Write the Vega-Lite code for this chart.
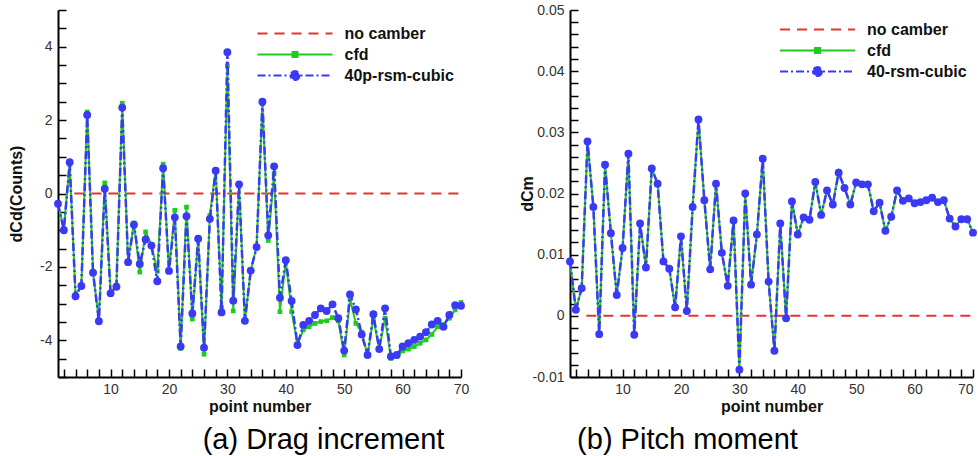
{
  "$schema": "https://vega.github.io/schema/vega-lite/v6.json",
  "background": "white",
  "padding": {"left": 8, "top": 3, "right": 2, "bottom": 2},
  "bounds": "flush",
  "spacing": 109,
  "config": {
    "font": "Liberation Sans",
    "view": {"stroke": null},
    "axis": {
      "labelFont": "Liberation Sans",
      "labelFontSize": 14,
      "labelColor": "#333333",
      "titleFont": "Liberation Sans",
      "titleFontSize": 16,
      "titleFontWeight": "bold",
      "titleColor": "#111111",
      "domainColor": "#000000",
      "domainWidth": 2,
      "grid": false,
      "labelOverlap": false,
      "labelFlush": false,
      "ticks": true,
      "tickWidth": 1.5,
      "tickSize": -8,
      "tickColor": "#000000",
      "zindex": 1
    }
  },
  "datasets": {
    "drag": [
      {"n":1,"cfd":-0.3,"rsm":-0.28},{"n":2,"cfd":-0.95,"rsm":-1.0},{"n":3,"cfd":0.8,"rsm":0.85},{"n":4,"cfd":-2.75,"rsm":-2.8},{"n":5,"cfd":-2.5,"rsm":-2.52},
      {"n":6,"cfd":2.22,"rsm":2.14},{"n":7,"cfd":-2.15,"rsm":-2.16},{"n":8,"cfd":-3.45,"rsm":-3.48},{"n":9,"cfd":0.29,"rsm":0.13},{"n":10,"cfd":-2.7,"rsm":-2.72},
      {"n":11,"cfd":-2.5,"rsm":-2.54},{"n":12,"cfd":2.46,"rsm":2.34},{"n":13,"cfd":-1.85,"rsm":-1.87},{"n":14,"cfd":-0.8,"rsm":-0.85},{"n":15,"cfd":-2.14,"rsm":-1.92},
      {"n":16,"cfd":-1.05,"rsm":-1.25},{"n":17,"cfd":-1.4,"rsm":-1.42},{"n":18,"cfd":-2.12,"rsm":-2.39},{"n":19,"cfd":0.8,"rsm":0.69},{"n":20,"cfd":-2.1,"rsm":-2.11},
      {"n":21,"cfd":-0.46,"rsm":-0.65},{"n":22,"cfd":-4.22,"rsm":-4.17},{"n":23,"cfd":-0.37,"rsm":-0.62},{"n":24,"cfd":-3.42,"rsm":-3.27},{"n":25,"cfd":-1.2,"rsm":-1.23},
      {"n":26,"cfd":-4.38,"rsm":-4.2},{"n":27,"cfd":-0.6,"rsm":-0.69},{"n":28,"cfd":0.65,"rsm":0.62},{"n":29,"cfd":-3.11,"rsm":-3.24},{"n":30,"cfd":3.48,"rsm":3.85},
      {"n":31,"cfd":-3.2,"rsm":-2.92},{"n":32,"cfd":0.2,"rsm":0.25},{"n":33,"cfd":-3.47,"rsm":-3.47},{"n":34,"cfd":-2.1,"rsm":-2.1},{"n":35,"cfd":-1.45,"rsm":-1.46},
      {"n":36,"cfd":2.45,"rsm":2.5},{"n":37,"cfd":-1.28,"rsm":-1.14},{"n":38,"cfd":0.55,"rsm":0.74},{"n":39,"cfd":-3.22,"rsm":-2.84},{"n":40,"cfd":-1.85,"rsm":-1.82},
      {"n":41,"cfd":-3.22,"rsm":-2.93},{"n":42,"cfd":-4.1,"rsm":-4.13},{"n":43,"cfd":-3.72,"rsm":-3.58},{"n":44,"cfd":-3.63,"rsm":-3.47},{"n":45,"cfd":-3.54,"rsm":-3.31},
      {"n":46,"cfd":-3.49,"rsm":-3.13},{"n":47,"cfd":-3.47,"rsm":-3.2},{"n":48,"cfd":-3.38,"rsm":-3.02},{"n":49,"cfd":-3.47,"rsm":-3.4},{"n":50,"cfd":-4.4,"rsm":-4.28},
      {"n":51,"cfd":-2.88,"rsm":-2.75},{"n":52,"cfd":-3.54,"rsm":-3.16},{"n":53,"cfd":-3.78,"rsm":-3.84},{"n":54,"cfd":-4.4,"rsm":-4.4},{"n":55,"cfd":-3.4,"rsm":-3.29},
      {"n":56,"cfd":-4.24,"rsm":-4.24},{"n":57,"cfd":-3.4,"rsm":-3.13},{"n":58,"cfd":-4.49,"rsm":-4.44},{"n":59,"cfd":-4.44,"rsm":-4.4},{"n":60,"cfd":-4.29,"rsm":-4.17},
      {"n":61,"cfd":-4.24,"rsm":-4.08},{"n":62,"cfd":-4.17,"rsm":-3.99},{"n":63,"cfd":-4.08,"rsm":-3.9},{"n":64,"cfd":-3.99,"rsm":-3.78},{"n":65,"cfd":-3.84,"rsm":-3.57},
      {"n":66,"cfd":-3.63,"rsm":-3.47},{"n":67,"cfd":-3.57,"rsm":-3.63},{"n":68,"cfd":-3.4,"rsm":-3.31},{"n":69,"cfd":-3.17,"rsm":-3.04},{"n":70,"cfd":-2.97,"rsm":-3.06}
    ],
    "pitch": [
      {"n":1,"cfd":0.0089,"rsm":0.0089},{"n":2,"cfd":0.001,"rsm":0.001},{"n":3,"cfd":0.0045,"rsm":0.0045},{"n":4,"cfd":0.0285,"rsm":0.0285},{"n":5,"cfd":0.0178,"rsm":0.0178},
      {"n":6,"cfd":-0.003,"rsm":-0.003},{"n":7,"cfd":0.0247,"rsm":0.0247},{"n":8,"cfd":0.0135,"rsm":0.0135},{"n":9,"cfd":0.0034,"rsm":0.0034},{"n":10,"cfd":0.0111,"rsm":0.0111},
      {"n":11,"cfd":0.0265,"rsm":0.0265},{"n":12,"cfd":-0.0031,"rsm":-0.0031},{"n":13,"cfd":0.0151,"rsm":0.0151},{"n":14,"cfd":0.0079,"rsm":0.0079},{"n":15,"cfd":0.0241,"rsm":0.0241},
      {"n":16,"cfd":0.0216,"rsm":0.0216},{"n":17,"cfd":0.0089,"rsm":0.0089},{"n":18,"cfd":0.0077,"rsm":0.0077},{"n":19,"cfd":0.0014,"rsm":0.0014},{"n":20,"cfd":0.013,"rsm":0.013},
      {"n":21,"cfd":0.0008,"rsm":0.0008},{"n":22,"cfd":0.0178,"rsm":0.0178},{"n":23,"cfd":0.0321,"rsm":0.0321},{"n":24,"cfd":0.0189,"rsm":0.0189},{"n":25,"cfd":0.0076,"rsm":0.0076},
      {"n":26,"cfd":0.0216,"rsm":0.0216},{"n":27,"cfd":0.0103,"rsm":0.0103},{"n":28,"cfd":0.0049,"rsm":0.0049},{"n":29,"cfd":0.0156,"rsm":0.0156},{"n":30,"cfd":-0.0088,"rsm":-0.0088},
      {"n":31,"cfd":0.02,"rsm":0.02},{"n":32,"cfd":0.0051,"rsm":0.0051},{"n":33,"cfd":0.0133,"rsm":0.0133},{"n":34,"cfd":0.0257,"rsm":0.0257},{"n":35,"cfd":0.0056,"rsm":0.0056},
      {"n":36,"cfd":-0.0057,"rsm":-0.0057},{"n":37,"cfd":0.0151,"rsm":0.0151},{"n":38,"cfd":-0.0004,"rsm":-0.0004},{"n":39,"cfd":0.0189,"rsm":0.0187},{"n":40,"cfd":0.0133,"rsm":0.0133},
      {"n":41,"cfd":0.0161,"rsm":0.0161},{"n":42,"cfd":0.0157,"rsm":0.0157},{"n":43,"cfd":0.0219,"rsm":0.0219},{"n":44,"cfd":0.0165,"rsm":0.0165},{"n":45,"cfd":0.0205,"rsm":0.0205},
      {"n":46,"cfd":0.0182,"rsm":0.0182},{"n":47,"cfd":0.0236,"rsm":0.0234},{"n":48,"cfd":0.0209,"rsm":0.0209},{"n":49,"cfd":0.0182,"rsm":0.0182},{"n":50,"cfd":0.0218,"rsm":0.0218},
      {"n":51,"cfd":0.0215,"rsm":0.0215},{"n":52,"cfd":0.0215,"rsm":0.0215},{"n":53,"cfd":0.0171,"rsm":0.0171},{"n":54,"cfd":0.0185,"rsm":0.0185},{"n":55,"cfd":0.0139,"rsm":0.0139},
      {"n":56,"cfd":0.0162,"rsm":0.0162},{"n":57,"cfd":0.0205,"rsm":0.0205},{"n":58,"cfd":0.0188,"rsm":0.0188},{"n":59,"cfd":0.0192,"rsm":0.0192},{"n":60,"cfd":0.0184,"rsm":0.0184},
      {"n":61,"cfd":0.0186,"rsm":0.0186},{"n":62,"cfd":0.0189,"rsm":0.0189},{"n":63,"cfd":0.0195,"rsm":0.0193},{"n":64,"cfd":0.0186,"rsm":0.0186},{"n":65,"cfd":0.0189,"rsm":0.0189},
      {"n":66,"cfd":0.0159,"rsm":0.0159},{"n":67,"cfd":0.0146,"rsm":0.0146},{"n":68,"cfd":0.0158,"rsm":0.0158},{"n":69,"cfd":0.0158,"rsm":0.0158},{"n":70,"cfd":0.0136,"rsm":0.0136}
    ]
  },
  "resolve": {
    "scale": {"x": "independent", "y": "independent", "fill": "independent", "stroke": "independent", "shape": "independent", "strokeDash": "independent"},
    "legend": {"fill": "independent", "stroke": "independent", "shape": "independent", "strokeDash": "independent"}
  },
  "hconcat": [
    {
      "width": 403,
      "height": 367,
      "title": {"text": "(a) Drag increment", "orient": "bottom", "anchor": "middle", "frame": "group", "dx": 64, "offset": 12, "fontSize": 29, "fontWeight": "normal", "font": "Liberation Sans", "color": "#000000"},
      "encoding": {
        "x": {"field": "n", "type": "quantitative", "title": "point number",
          "scale": {"domain": [1, 70], "nice": false, "zero": false},
          "axis": {"values": [2,4,6,8,10,12,14,16,18,20,22,24,26,28,30,32,34,36,38,40,42,44,46,48,50,52,54,56,58,60,62,64,66,68,70],
            "labelExpr": "datum.value % 10 === 0 ? '' + datum.value : ''",
            "labelPadding": 13, "titlePadding": 2,
            "encoding": {"ticks": {"update": {"y2": {"signal": "datum.value % 10 === 0 ? -8 : -4"}, "stroke": {"signal": "datum.value % 10 === 0 ? '#000000' : '#777777'"}}}}}},
        "y": {"field": "v", "type": "quantitative", "title": "dCd(Counts)",
          "scale": {"domain": [-5, 5], "nice": false, "zero": false},
          "axis": {"values": [-5,-4.5,-4,-3.5,-3,-2.5,-2,-1.5,-1,-0.5,0,0.5,1,1.5,2,2.5,3,3.5,4,4.5,5],
            "labelExpr": "datum.value % 2 === 0 ? '' + datum.value : ''",
            "labelPadding": 14, "titlePadding": 15.5,
            "encoding": {"ticks": {"update": {"x2": {"signal": "datum.value % 2 === 0 ? 8 : 4"}, "stroke": {"signal": "datum.value % 2 === 0 ? '#000000' : '#777777'"}}}}}}
      },
      "layer": [
        {"data": {"values": [{"n": 3.8, "v": 0, "s": "no camber"}, {"n": 70, "v": 0, "s": "no camber"}]},
         "mark": {"type": "line", "color": "#e3342f", "strokeWidth": 2, "strokeDash": [10, 7]}},
        {"data": {"name": "drag"}, "transform": [{"fold": ["cfd"], "as": ["s", "v"]}],
         "mark": {"type": "line", "color": "#1ecb1e", "strokeWidth": 2}},
        {"data": {"name": "drag"}, "transform": [{"fold": ["cfd"], "as": ["s", "v"]}],
         "mark": {"type": "square", "color": "#1ecb1e", "size": 22, "opacity": 1}},
        {"data": {"name": "drag"}, "transform": [{"fold": ["rsm"], "as": ["s", "v"]}],
         "mark": {"type": "line", "color": "#3a3af5", "strokeWidth": 2.5, "strokeDash": [8, 3, 2, 3]}},
        {"data": {"name": "drag"}, "transform": [{"fold": ["rsm"], "as": ["s", "v"]}],
         "mark": {"type": "circle", "color": "#3a3af5", "size": 62, "opacity": 1}},
        {"data": {"values": [{"n": 3.8, "v": 0, "s": "no camber"}, {"n": 70, "v": 0, "s": "no camber"}]},
         "mark": {"type": "point", "opacity": 0, "strokeWidth": 2},
         "encoding": {
           "shape": {"field": "s", "type": "nominal",
             "scale": {"domain": ["no camber", "cfd", "40p-rsm-cubic"], "range": ["M-5,0H5", "M-5,0H5M-0.33,-0.33H0.33V0.33H-0.33Z", "M-5,0H5M0.6,0A0.6,0.6,0,1,1,-0.6,0A0.6,0.6,0,1,1,0.6,0Z"]},
             "legend": {"title": null, "orient": "none", "legendX": 228.5, "legendY": 15, "padding": 0, "labelFont": "Liberation Sans", "labelFontSize": 16, "labelFontWeight": "bold", "labelColor": "#111111", "symbolSize": 225, "symbolStrokeWidth": 2, "symbolOpacity": 1, "labelOffset": 41, "rowPadding": 4}},
           "stroke": {"field": "s", "type": "nominal",
             "scale": {"domain": ["no camber", "cfd", "40p-rsm-cubic"], "range": ["#e3342f", "#1ecb1e", "#3a3af5"]},
             "legend": {"title": null, "orient": "none", "legendX": 228.5, "legendY": 15, "padding": 0, "labelFont": "Liberation Sans", "labelFontSize": 16, "labelFontWeight": "bold", "labelColor": "#111111", "symbolSize": 225, "symbolStrokeWidth": 2, "symbolOpacity": 1, "labelOffset": 41, "rowPadding": 4}},
           "fill": {"field": "s", "type": "nominal",
             "scale": {"domain": ["no camber", "cfd", "40p-rsm-cubic"], "range": ["transparent", "#1ecb1e", "#3a3af5"]},
             "legend": {"title": null, "orient": "none", "legendX": 228.5, "legendY": 15, "padding": 0, "labelFont": "Liberation Sans", "labelFontSize": 16, "labelFontWeight": "bold", "labelColor": "#111111", "symbolSize": 225, "symbolStrokeWidth": 2, "symbolOpacity": 1, "labelOffset": 41, "rowPadding": 4}},
           "strokeDash": {"field": "s", "type": "nominal",
             "scale": {"domain": ["no camber", "cfd", "40p-rsm-cubic"], "range": [[10, 7], [1, 0], [8, 3, 2, 3]]},
             "legend": {"title": null, "orient": "none", "legendX": 228.5, "legendY": 15, "padding": 0, "labelFont": "Liberation Sans", "labelFontSize": 16, "labelFontWeight": "bold", "labelColor": "#111111", "symbolSize": 225, "symbolStrokeWidth": 2, "symbolOpacity": 1, "labelOffset": 41, "rowPadding": 4}}
         }}
      ]
    },
    {
      "width": 403,
      "height": 367,
      "title": {"text": "(b) Pitch moment", "orient": "bottom", "anchor": "middle", "frame": "group", "dx": -84, "offset": 12, "fontSize": 29, "fontWeight": "normal", "font": "Liberation Sans", "color": "#000000"},
      "encoding": {
        "x": {"field": "n", "type": "quantitative", "title": "point number",
          "scale": {"domain": [1, 70], "nice": false, "zero": false},
          "axis": {"values": [2,4,6,8,10,12,14,16,18,20,22,24,26,28,30,32,34,36,38,40,42,44,46,48,50,52,54,56,58,60,62,64,66,68,70],
            "labelExpr": "datum.value % 10 === 0 ? '' + datum.value : ''",
            "labelFlush": true,
            "labelPadding": 13, "titlePadding": 2,
            "encoding": {"ticks": {"update": {"y2": {"signal": "datum.value % 10 === 0 ? -8 : -4"}, "stroke": {"signal": "datum.value % 10 === 0 ? '#000000' : '#777777'"}}}}}},
        "y": {"field": "v", "type": "quantitative", "title": "dCm",
          "scale": {"domain": [-0.01, 0.05], "nice": false, "zero": false},
          "axis": {"values": [-0.01,-0.008,-0.006,-0.004,-0.002,0,0.002,0.004,0.006,0.008,0.01,0.012,0.014,0.016,0.018,0.02,0.022,0.024,0.026,0.028,0.03,0.032,0.034,0.036,0.038,0.04,0.042,0.044,0.046,0.048,0.05],
            "labelExpr": "abs(round(datum.value * 500)) % 5 === 0 ? '' + datum.value : ''",
            "labelPadding": 14, "titlePadding": -3,
            "encoding": {"ticks": {"update": {"x2": {"signal": "abs(round(datum.value * 500)) % 5 === 0 ? 8 : 4"}, "stroke": {"signal": "abs(round(datum.value * 500)) % 5 === 0 ? '#000000' : '#777777'"}}}}}}
      },
      "layer": [
        {"data": {"values": [{"n": 3.8, "v": 0, "s": "no camber"}, {"n": 70, "v": 0, "s": "no camber"}]},
         "mark": {"type": "line", "color": "#e3342f", "strokeWidth": 2, "strokeDash": [10, 7]}},
        {"data": {"name": "pitch"}, "transform": [{"fold": ["cfd"], "as": ["s", "v"]}],
         "mark": {"type": "line", "color": "#1ecb1e", "strokeWidth": 2}},
        {"data": {"name": "pitch"}, "transform": [{"fold": ["cfd"], "as": ["s", "v"]}],
         "mark": {"type": "square", "color": "#1ecb1e", "size": 22, "opacity": 1}},
        {"data": {"name": "pitch"}, "transform": [{"fold": ["rsm"], "as": ["s", "v"]}],
         "mark": {"type": "line", "color": "#3a3af5", "strokeWidth": 2.5, "strokeDash": [8, 3, 2, 3]}},
        {"data": {"name": "pitch"}, "transform": [{"fold": ["rsm"], "as": ["s", "v"]}],
         "mark": {"type": "circle", "color": "#3a3af5", "size": 62, "opacity": 1}},
        {"data": {"values": [{"n": 3.8, "v": 0, "s": "no camber"}, {"n": 70, "v": 0, "s": "no camber"}]},
         "mark": {"type": "point", "opacity": 0, "strokeWidth": 2},
         "encoding": {
           "shape": {"field": "s", "type": "nominal",
             "scale": {"domain": ["no camber", "cfd", "40-rsm-cubic"], "range": ["M-5,0H5", "M-5,0H5M-0.33,-0.33H0.33V0.33H-0.33Z", "M-5,0H5M0.6,0A0.6,0.6,0,1,1,-0.6,0A0.6,0.6,0,1,1,0.6,0Z"]},
             "legend": {"title": null, "orient": "none", "legendX": 239, "legendY": 11, "padding": 0, "labelFont": "Liberation Sans", "labelFontSize": 16, "labelFontWeight": "bold", "labelColor": "#111111", "symbolSize": 225, "symbolStrokeWidth": 2, "symbolOpacity": 1, "labelOffset": 41, "rowPadding": 4}},
           "stroke": {"field": "s", "type": "nominal",
             "scale": {"domain": ["no camber", "cfd", "40-rsm-cubic"], "range": ["#e3342f", "#1ecb1e", "#3a3af5"]},
             "legend": {"title": null, "orient": "none", "legendX": 239, "legendY": 11, "padding": 0, "labelFont": "Liberation Sans", "labelFontSize": 16, "labelFontWeight": "bold", "labelColor": "#111111", "symbolSize": 225, "symbolStrokeWidth": 2, "symbolOpacity": 1, "labelOffset": 41, "rowPadding": 4}},
           "fill": {"field": "s", "type": "nominal",
             "scale": {"domain": ["no camber", "cfd", "40-rsm-cubic"], "range": ["transparent", "#1ecb1e", "#3a3af5"]},
             "legend": {"title": null, "orient": "none", "legendX": 239, "legendY": 11, "padding": 0, "labelFont": "Liberation Sans", "labelFontSize": 16, "labelFontWeight": "bold", "labelColor": "#111111", "symbolSize": 225, "symbolStrokeWidth": 2, "symbolOpacity": 1, "labelOffset": 41, "rowPadding": 4}},
           "strokeDash": {"field": "s", "type": "nominal",
             "scale": {"domain": ["no camber", "cfd", "40-rsm-cubic"], "range": [[10, 7], [1, 0], [8, 3, 2, 3]]},
             "legend": {"title": null, "orient": "none", "legendX": 239, "legendY": 11, "padding": 0, "labelFont": "Liberation Sans", "labelFontSize": 16, "labelFontWeight": "bold", "labelColor": "#111111", "symbolSize": 225, "symbolStrokeWidth": 2, "symbolOpacity": 1, "labelOffset": 41, "rowPadding": 4}}
         }}
      ]
    }
  ]
}
